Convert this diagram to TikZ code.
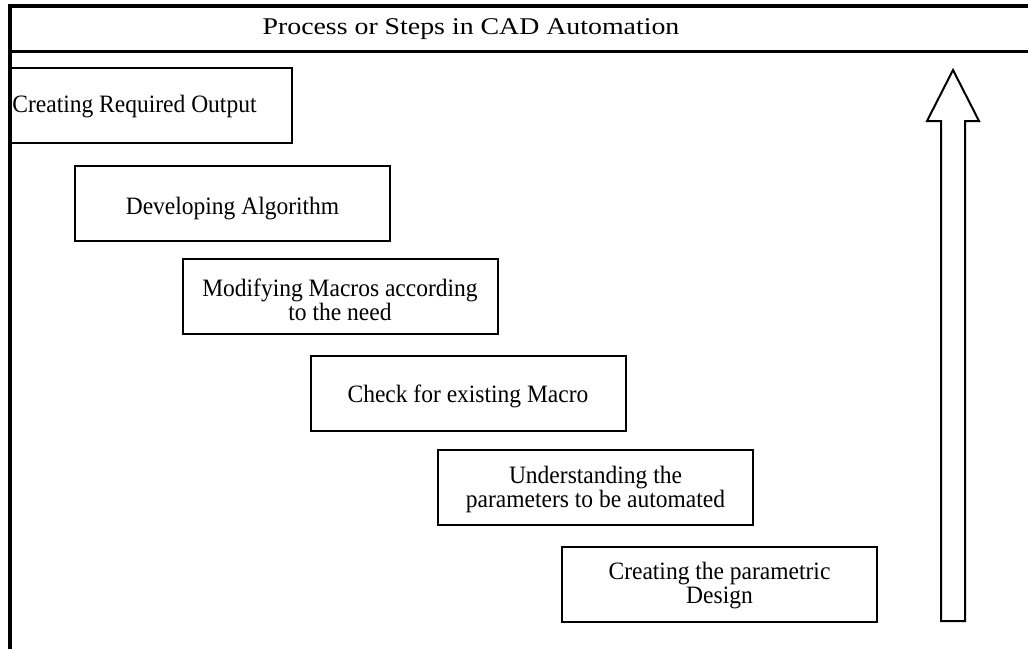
\documentclass[tikz,border=0pt]{standalone}
\usepackage{fontspec}
\setmainfont{Liberation Serif}
\newfontfamily\boxserif[FakeStretch=0.94]{Liberation Serif}
\newfontfamily\titleserif[FakeStretch=1.16]{Liberation Serif}
\begin{document}
\begin{tikzpicture}[x=1pt,y=-1pt,
  stepbox/.style={draw=black,line width=2pt,minimum width=315pt,minimum height=75pt,inner sep=0pt},
  steptext/.style={align=center,inner sep=0pt,font=\boxserif\fontsize{25}{24}\selectfont},
  frameline/.style={line width=3.5pt,line cap=rect},
  bigarrow/.style={draw=black,line width=2pt,fill=white,line join=miter}]
\useasboundingbox (0,0) rectangle (1028,648);
\clip (0,0) rectangle (1028,648);
% steps
\begin{scope}
\clip (11,0) rectangle (1028,648);
\node[stepbox] (b1) at (134.5,105.5) {};
\node[stepbox] (b2) at (232.5,203.5) {};
\node[stepbox] (b3) at (340,296.5) {};
\node[stepbox] (b4) at (468,393) {};
\node[stepbox] (b5) at (595.5,487) {};
\node[stepbox] (b6) at (719.5,584) {};
\end{scope}
\node[steptext] (t1) at ([yshift=-1pt]b1.center) {Creating Required Output};
\node[steptext] (t2) at ([yshift=-5pt]b2.center) {Developing Algorithm};
\node[steptext] (t3) at ([yshift=-3pt]b3.center) {Modifying Macros according\\to the need};
\node[steptext] (t4) at ([yshift=-3pt]b4.center) {Check for existing Macro};
\node[steptext] (t5) at ([yshift=-2pt]b5.center) {Understanding the\\parameters to be automated};
\node[steptext] (t6) at ([yshift=-2pt]b6.center) {Creating the parametric\\Design};
% frame
\coordinate (tl) at (10,6);
\coordinate (tr) at (1030,6);
\coordinate (ml) at (10,51.5);
\coordinate (mr) at (1030,51.5);
\coordinate (bl) at (10,650);
\draw[frameline] (tr) -- (tl) -- (bl);
\draw[frameline] (ml) -- (mr);
\node[font=\titleserif\fontsize{24}{24}\selectfont] (title) at (471,29) {Process or Steps in CAD Automation};
% arrow
\draw[bigarrow] (941,621) -- (941,121) -- (927,121) -- (953,70) -- (979,121) -- (965,121) -- (965,621) -- cycle;
\end{tikzpicture}
\end{document}
